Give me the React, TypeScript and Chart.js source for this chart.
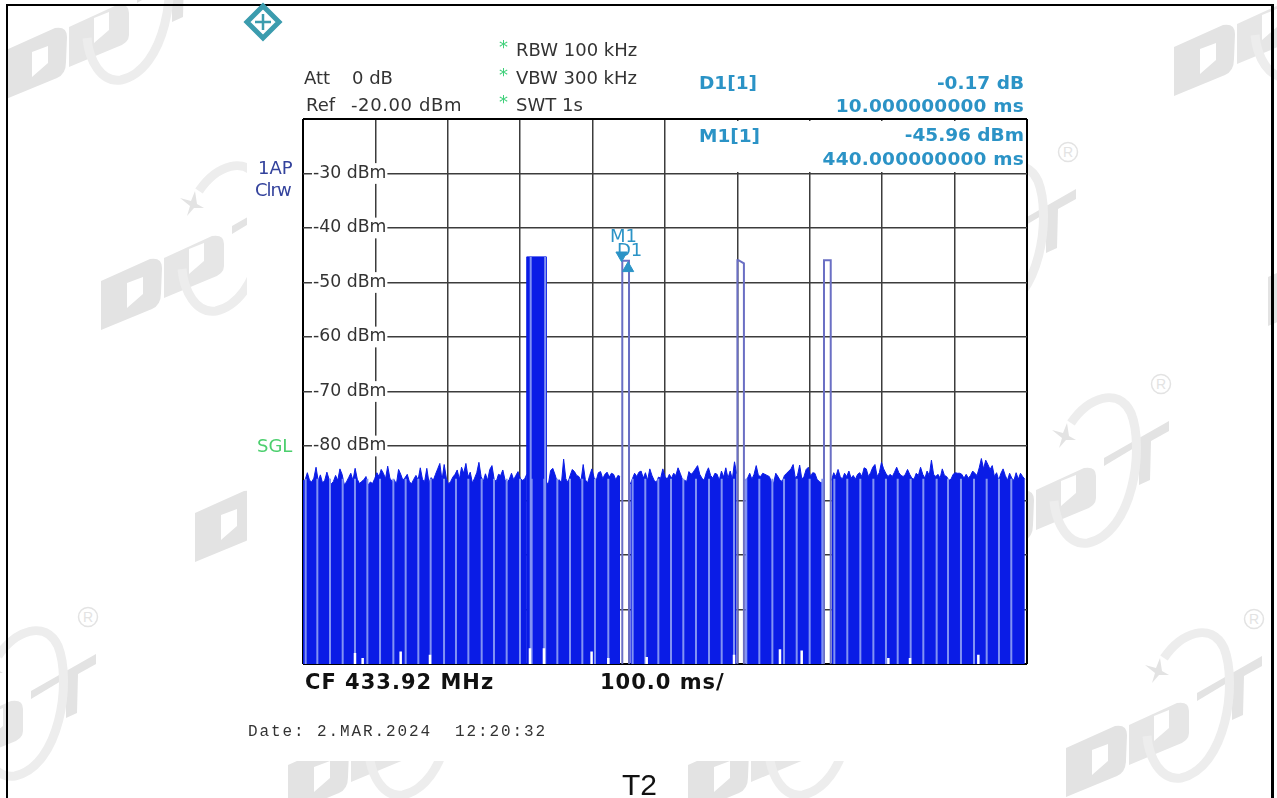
import React, { useEffect, useRef } from "react";
import { Chart, registerables } from "chart.js";

Chart.register(...registerables);

const yTicks = [-30, -40, -50, -60, -70, -80];
const SAMPLE_MS = 3;
const noiseA = [
  -86.4,-86.2,-84.9,-86.3,-86.6,-85.9,-83.9,-86.4,-85.3,-86.8,-86.3,-84.8,-86.1,-87.0,-86.5,-85.4,-86.3,-84.2,-85.2,-87.1,
  -86.6,-85.8,-85.0,-86.3,-84.1,-86.1,-86.9,-86.5,-86.2,-85.6,-87.2,-86.6,-86.9,-86.0,-84.9,-85.6,-84.3,-85.0,-86.0,-83.7,
  -85.9,-86.5,-86.2,-87.0,-84.3,-85.2,-86.3,-85.8,-85.2,-86.6,-86.9,-86.1,-85.4,-86.2,-84.0,-86.1,-86.5,-84.1,-86.7,-85.8,
  -86.3,-85.2,-84.2,-83.2,-86.3,-83.4,-85.9,-87.0,-86.5,-85.7,-85.2,-84.4,-86.1,-83.9,-85.0,-83.2,-85.7,-84.8,-86.8,-85.9,
  -84.9,-83.0,-85.6,-86.5,-85.1,-86.3,-84.3,-83.6,-86.1,-86.5,-85.2,-85.4,-84.4,-86.2,-86.7,-86.1,-85.0,-86.2,-85.4,-84.7,
  -85.9,-86.3,-86.1,-85.2,
];
const noiseB = [
  -86.6,-87.0,-84.5,-84.1,-85.2,-86.5,-86.2,-86.8,-82.4,-86.0,-86.7,-85.4,-84.3,-84.7,-85.4,-85.6,-86.4,-83.4,-86.2,
  -86.8,-85.4,-84.2,-85.8,-86.3,-84.9,-84.7,-86.0,-85.2,-84.8,-85.7,-85.0,-85.2,-86.2,-85.4,-85.6,
];
const noiseC = [
  -87.0,-86.0,-85.0,-85.6,-84.8,-84.6,-85.9,-84.9,-86.3,-84.2,-85.4,-86.3,-86.7,-85.7,-85.9,-84.2,-85.6,-86.1,-85.2,-85.9,
  -85.0,-85.4,-84.0,-85.0,-86.1,-86.3,-86.5,-84.7,-85.2,-84.8,-84.2,-83.6,-85.2,-85.9,-86.3,-84.9,-84.0,-85.4,-85.9,-85.0,
  -85.2,-86.3,-84.6,-85.7,-84.0,-85.9,-84.6,-86.1,-82.9,-85.1,
];
const noiseD = [
  -86.3,-85.9,-85.0,-86.1,-85.2,-83.6,-85.4,-85.6,-85.0,-85.2,-85.4,-85.6,-86.5,-86.8,-85.0,-85.6,-86.3,-86.5,-85.4,-85.0,
  -84.6,-84.2,-83.4,-85.9,-85.4,-83.5,-86.1,-85.6,-84.3,-83.9,-85.6,-84.9,-85.0,-86.1,-86.5,-86.8,-86.3,
];
const noiseE = [
  -86.3,-84.9,-85.6,-84.3,-85.6,-86.1,-85.0,-85.6,-84.6,-85.9,-85.4,-86.1,-85.2,-84.9,-85.6,-84.0,-84.2,-85.6,-84.9,-83.9,
  -83.4,-85.6,-84.9,-83.0,-84.2,-85.0,-85.6,-85.2,-85.6,-84.8,-83.9,-84.9,-85.4,-85.6,-85.2,-84.3,-85.2,-85.9,-86.1,-85.0,
  -85.4,-83.9,-85.2,-85.9,-84.6,-85.4,-82.6,-85.2,-85.6,-85.2,-85.9,-84.2,-85.4,-85.6,-86.3,-86.1,-85.2,-84.9,-85.0,-85.0,
  -85.2,-85.9,-85.2,-85.9,-85.4,-84.6,-85.0,-85.4,-84.0,-82.3,-84.2,-82.6,-83.4,-84.3,-83.6,-85.6,-84.9,-86.3,-85.0,-84.2,
  -85.4,-86.3,-85.0,-85.9,-86.3,-84.9,-86.1,-85.0,-85.6,-86.1,
];
const segmentStarts = [0, 336, 452, 611, 730];
const comb = [
  3.7,19.8,37.3,54.8,71.8,88.9,106.4,124.8,141.8,159.3,176.3,194.8,211.3,228.4,246.8,263.8,281.3,299.7,315.8,333.3,
  351.3,368.8,385.8,403.3,421.7,455.3,472.8,490.8,508.3,525.3,542.8,560.8,578.3,595.3,612.3,630.3,648.3,664.4,681.9,
  699.8,717.3,733.9,751.8,769.8,787.8,805.2,821.4,839.3,856.8,875.2,890.9,908.8,926.8,944.3,961.3,978.3,
];
const combFloor = -120;
const combTop = -86;
const notchTimes = [71.8,82.4,134.9,175.4,313.5,332.8,398.6,421.7,474.7,595.3,658.8,688.8,808.5,838.4,932.8];
const notchTops = [-118,-118.9,-117.7,-118.3,-117.1,-117.1,-117.7,-118.9,-118.7,-118.3,-117.3,-117.5,-118.9,-118.9,-118.3];
const blockX = [309, 309, 336, 336];
const blockY = [-120, -45.3, -45.3, -120];
const blockStripes = [314.5, 334.5];
const burst2X = [441, 441, 450.3, 450.3];
const burst2Y = [-120, -46, -46, -120];
const burst3X = [600, 600, 601.5, 609, 609];
const burst3Y = [-120, -45.9, -45.9, -46.5, -120];
const burst4X = [719.6, 719.6, 728.9, 728.9];
const burst4Y = [-120, -45.9, -45.9, -120];
const markerM1 = { x: 440, y: -45 };
const markerD1 = { x: 449, y: -47.4 };

const BLUE = "#0a1ce6";
const STRIPE = "#8193f3";
const OUTLINE = "#6a6fc4";
const TEAL = "#2b93c6";
const SANS = "'DejaVu Sans', sans-serif";

const zip = (xs: number[], ys: number[]) => xs.map((x, i) => ({ x, y: ys[i] }));
const series = (start: number, ys: number[]) => ys.map((y, i) => ({ x: start + i * SAMPLE_MS, y }));
const verticals = (ts: number[], bottom: number, tops: number[] | number) =>
  ts.flatMap((t, i) => [
    { x: t, y: bottom },
    { x: t, y: Array.isArray(tops) ? tops[i] : tops },
    { x: t, y: null as any },
  ]);

const logoPositions = [
  [6, -75], [101, 156], [195, 388], [-100, 621], [1174, -78], [1268, 152],
  [880, 156], [973, 388], [1066, 623], [288, 640], [688, 640],
];

function Logo({ x, y }: { x: number; y: number }) {
  return (
    <g transform={`translate(${x} ${y})`}>
      <path fill="#e3e3e3" fillRule="evenodd" d="M0,125 L49,103 Q61,101 61,112 L60,137 Q60,149 51,153 L0,174 Z M26,127 L42,121 L42,138 L26,152 Z" />
      <path fill="#e6e6e6" fillRule="evenodd" d="M63,102 L111,80 Q123,78 123,88 L123,110 Q123,118 111,122 L63,142 Z M88,93 L103,87 L103,105 L88,118 Z" />
      <path fill="#e3e3e3" d="M131,70 L196,33 L196,43 L178,53 L177,92 L166,97 L166,57 L131,78 Z" />
      <path fill="none" stroke="#ededed" strokeWidth="9" d="M98,35 C115,10 145,-2 158,25 C172,60 160,145 115,155 C95,158 83,135 81,113" />
      <path fill="#e3e3e3" d="M79,42 L90,45 L94,35 L96,48 L103,52 L93,52 L86,60 L89,50 Z" />
      <circle cx="188" cy="-4" r="9.5" fill="none" stroke="#e3e3e3" strokeWidth="1.5" />
      <text x="188" y="1" textAnchor="middle" fontFamily="'Liberation Sans'" fontSize="14" fill="#e3e3e3">R</text>
    </g>
  );
}

type TextProps = { x?: number; right?: number; y: number; size?: number; color?: string; font?: string; bold?: boolean; spacing?: number; children: React.ReactNode };
function Label({ x, right, y, size = 18, color = "#333", font = SANS, bold, spacing = 0, children }: TextProps) {
  const style: React.CSSProperties = {
    position: "absolute", top: y, transform: "translateY(-50%)", whiteSpace: "pre", lineHeight: 1,
    fontFamily: font, fontSize: size, color, fontWeight: bold ? 700 : 400, letterSpacing: spacing,
  };
  if (x !== undefined) style.left = x;
  if (right !== undefined) style.right = 1277 - right;
  return <div style={style}>{children}</div>;
}

export default function App() {
  const ref = useRef<HTMLCanvasElement>(null);
  useEffect(() => {
    const noise = [noiseA, noiseB, noiseC, noiseD, noiseE];
    const lineBase = { pointRadius: 0, tension: 0, spanGaps: false };
    const chart = new Chart(ref.current!, {
      type: "line",
      data: {
        datasets: [
          { label: "M1", type: "scatter", data: [markerM1], pointStyle: "triangle", rotation: 180, pointRadius: 6.5, backgroundColor: TEAL, borderColor: TEAL, order: 0 },
          { label: "D1", type: "scatter", data: [markerD1], pointStyle: "triangle", pointRadius: 6.5, backgroundColor: TEAL, borderColor: TEAL, order: 0 },
          { label: "notches", data: verticals(notchTimes, combFloor, notchTops), borderColor: "#ffffff", borderWidth: 2.5, order: 1, ...lineBase },
          { label: "block stripes", data: verticals(blockStripes, combFloor, -45.3), borderColor: STRIPE, borderWidth: 2, order: 2, ...lineBase },
          { label: "comb", data: verticals(comb, combFloor, combTop), borderColor: STRIPE, borderWidth: 2, order: 2, ...lineBase },
          { label: "burst 2", data: zip(burst2X, burst2Y), borderColor: OUTLINE, borderWidth: 2, order: 3, ...lineBase },
          { label: "burst 3", data: zip(burst3X, burst3Y), borderColor: OUTLINE, borderWidth: 2, order: 3, ...lineBase },
          { label: "burst 4", data: zip(burst4X, burst4Y), borderColor: OUTLINE, borderWidth: 2, order: 3, ...lineBase },
          { label: "block", data: zip(blockX, blockY), borderColor: BLUE, backgroundColor: BLUE, borderWidth: 1, fill: "start", order: 4, ...lineBase },
          ...noise.map((ys, i) => ({
            label: `trace ${i + 1}`, data: series(segmentStarts[i], ys), borderColor: BLUE, backgroundColor: BLUE,
            borderWidth: 1, fill: "start", order: 4, ...lineBase,
          })),
        ] as any,
      },
      options: {
        animation: false,
        responsive: false,
        layout: { padding: { left: 303, top: 119, right: 250, bottom: 134 } },
        plugins: { legend: { display: false }, tooltip: { enabled: false } },
        scales: {
          x: {
            type: "linear", min: 0, max: 1000,
            ticks: { stepSize: 100, display: false },
            border: { display: false },
            grid: {
              drawTicks: false,
              color: (c: any) => (c.tick.value === 0 || c.tick.value === 1000 ? "#000" : "#3c3c3c"),
              lineWidth: (c: any) => (c.tick.value === 0 || c.tick.value === 1000 ? 2 : 1.5),
            },
          },
          y: {
            type: "linear", min: -120, max: -20,
            afterFit: (s: any) => { s.width = 0; },
            ticks: {
              stepSize: 10, mirror: true, padding: 10, color: "#333",
              font: { family: "'DejaVu Sans'", size: 17.3 },
              showLabelBackdrop: (c: any) => yTicks.includes(c.tick.value),
              backdropColor: "#fff",
              backdropPadding: { x: 1, y: 0 },
              callback: (v: any) => (yTicks.includes(v) ? `${v} dBm` : ""),
            } as any,
            border: { display: false },
            grid: {
              drawTicks: false,
              color: (c: any) => (c.tick.value === -20 || c.tick.value === -120 ? "#000" : "#3c3c3c"),
              lineWidth: (c: any) => (c.tick.value === -20 || c.tick.value === -120 ? 2 : 1.5),
            },
          },
        },
      },
    });
    return () => chart.destroy();
  }, []);

  return (
    <div style={{ position: "absolute", left: 0, top: 0, width: 1277, height: 798, overflow: "hidden", background: "#fff" }}>
      <svg width="1277" height="798" style={{ position: "absolute", left: 0, top: 0 }}>
        {logoPositions.map(([x, y], i) => <Logo key={i} x={x} y={y} />)}
      </svg>
      <div style={{ position: "absolute", left: 247, top: 6, width: 781, height: 755, background: "#fff" }} />
      <div style={{ position: "absolute", left: 6, top: 4, width: 2, height: 794, background: "#000" }} />
      <div style={{ position: "absolute", left: 6, top: 4, width: 1268, height: 2, background: "#000" }} />
      <div style={{ position: "absolute", left: 1271, top: 4, width: 3, height: 794, background: "#000" }} />
      <canvas ref={ref} width={1277} height={798} style={{ position: "absolute", left: 0, top: 0, display: "block" }} />
      <div style={{ position: "absolute", left: 668, top: 121, width: 357, height: 51, background: "#fff" }} />
      <svg width="40" height="40" style={{ position: "absolute", left: 243, top: 2 }}>
        <polygon points="20,4 36,20 20,36 4,20" fill="#fff" stroke="#3b9cae" strokeWidth="5" />
        <path d="M12,20 L28,20 M20,12 L20,28" stroke="#3b9cae" strokeWidth="2.5" />
      </svg>
      <Label x={304} y={78}>Att</Label>
      <Label x={352} y={78}>0 dB</Label>
      <Label x={306} y={105}>Ref</Label>
      <Label x={351} y={105} spacing={0.6}>-20.00 dBm</Label>
      {["RBW 100 kHz", "VBW 300 kHz", "SWT 1s"].map((t, i) => (
        <React.Fragment key={t}>
          <Label x={499} y={47 + i * 27.5} color="#3fd07a" size={18}>*</Label>
          <Label x={516} y={50 + i * 27.5}>{t}</Label>
        </React.Fragment>
      ))}
      <Label x={699} y={83} size={18.5} bold color={TEAL}>D1[1]</Label>
      <Label right={1024} y={83} size={18.5} bold color={TEAL}>-0.17 dB</Label>
      <Label right={1024} y={106} size={18.5} bold color={TEAL} spacing={0.2}>10.000000000 ms</Label>
      <Label x={699} y={136} size={18.5} bold color={TEAL}>M1[1]</Label>
      <Label right={1024} y={135} size={18.5} bold color={TEAL}>-45.96 dBm</Label>
      <Label right={1024} y={159} size={18.5} bold color={TEAL} spacing={0.2}>440.000000000 ms</Label>
      <Label x={258} y={168} size={18} color="#33429c">1AP</Label>
      <Label x={255} y={190} size={18} color="#33429c" spacing={-1}>Clrw</Label>
      <Label x={257} y={446} size={18} color="#4ccf6e">SGL</Label>
      <Label x={610} y={236} size={18} color={TEAL}>M1</Label>
      <Label x={617} y={250} size={18} color={TEAL}>D1</Label>
      <Label x={305} y={682} size={21} bold color="#111" spacing={1}>CF 433.92 MHz</Label>
      <Label x={600} y={682} size={21} bold color="#111" spacing={1}>100.0 ms/</Label>
      <Label x={248} y={732} size={16} color="#333" font="'Liberation Mono', monospace" spacing={1.9}>Date: 2.MAR.2024  12:20:32</Label>
      <Label x={622} y={785} size={30} color="#111" font="'Liberation Sans', sans-serif">T2</Label>
    </div>
  );
}
